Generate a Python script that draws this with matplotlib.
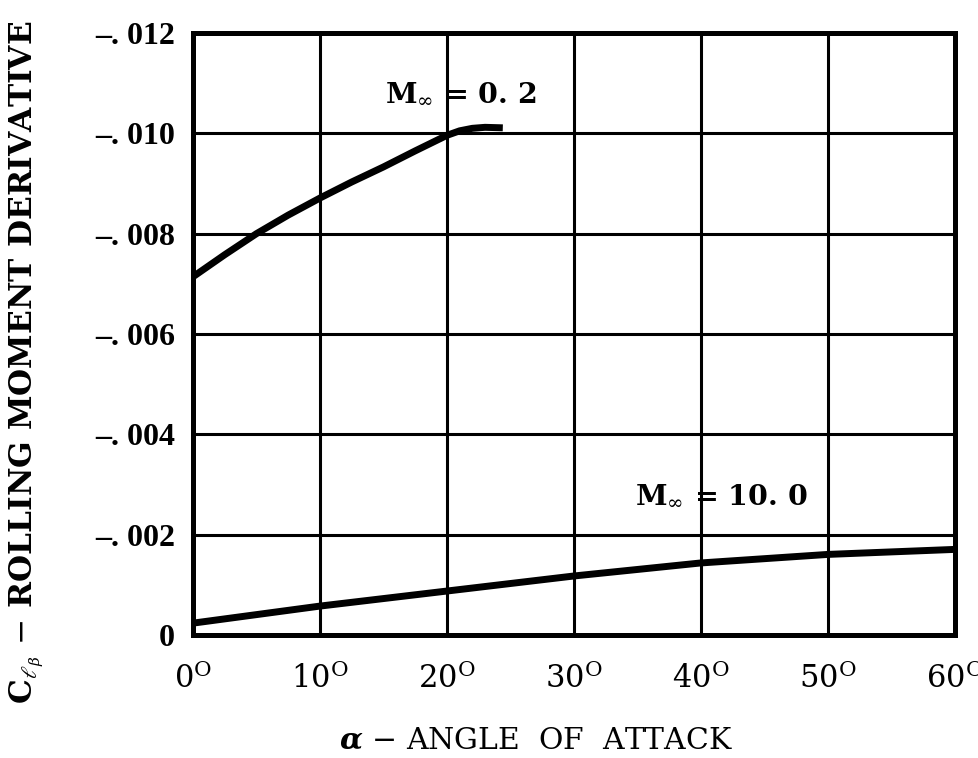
import matplotlib
matplotlib.use("Agg")
import matplotlib.pyplot as plt
import numpy as np

plt.rcParams['mathtext.fontset'] = 'dejavuserif'

# M = 0.2 curve (alpha in deg, Cl_beta)
alpha_m02 = [0, 2.5, 5, 7.5, 10, 12.5, 15, 17.5, 20, 21, 22, 23, 24.4]
clb_m02 = [-0.00714, -0.00758, -0.00800, -0.00837, -0.00871, -0.00903, -0.00933,
           -0.00965, -0.00996, -0.01005, -0.01010, -0.01012, -0.01011]

# M = 10.0 curve
alpha_m10 = [0, 10, 20, 30, 40, 50, 60]
clb_m10 = [-0.00024, -0.00058, -0.00088, -0.00118, -0.00144, -0.00161, -0.00171]

x_ticks = [0, 10, 20, 30, 40, 50, 60]
x_labels = [r'$\mathrm{%d}^{\mathrm{O}}$' % v for v in x_ticks]
y_ticks = [0, -0.002, -0.004, -0.006, -0.008, -0.010, -0.012]
y_labels = ['0', '–. 002', '–. 004', '–. 006', '–. 008', '–. 010', '–. 012']

fig = plt.figure(figsize=(9.79, 7.58), dpi=100)
ax = fig.add_axes([0.197, 0.162, 0.7785, 0.7945])

ax.plot(alpha_m02, clb_m02, color='k', lw=5, solid_capstyle='butt', zorder=3)
ax.plot(alpha_m10, clb_m10, color='k', lw=5, solid_capstyle='butt', zorder=3)

ax.set_xlim(0, 60)
ax.set_ylim(0, -0.012)
ax.set_xticks(x_ticks)
ax.set_xticklabels(x_labels, fontsize=22, family='Liberation Serif')
ax.set_yticks(y_ticks)
ax.set_yticklabels(y_labels, fontsize=23, family='Liberation Serif', fontweight='bold')
ax.tick_params(length=0, pad=13)
ax.tick_params(axis='x', pad=20)

ax.grid(True, color='k', lw=2.2)
for s in ax.spines.values():
    s.set_linewidth(3.6)

ax.text(15.1, -0.01064, r'M$_{\infty}$ = 0. 2', fontsize=20.5, family='DejaVu Serif',
        fontweight='bold', va='baseline', ha='left')
ax.text(34.8, -0.00262, r'M$_{\infty}$ = 10. 0', fontsize=20.5, family='DejaVu Serif',
        fontweight='bold', va='baseline', ha='left')

# axis titles placed on the figure
fig.text(536 / 979, 9 / 758, r'$\boldsymbol{\alpha}$ $-$ ANGLE  OF  ATTACK', fontsize=21.5,
         family='DejaVu Serif', ha='center', va='baseline')
fig.text(27 / 979, 0.522, r'C$_{\ell_{\beta}}$ $-$ ROLLING MOMENT DERIVATIVE', fontsize=22.5,
         family='DejaVu Serif', fontweight='bold', rotation=90, ha='center', va='center')

fig.savefig('out.png', dpi=100)
